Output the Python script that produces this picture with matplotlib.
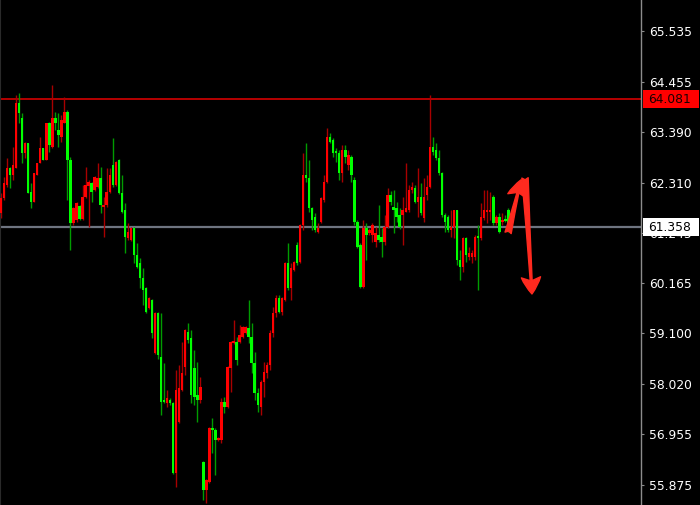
import numpy as np
import matplotlib
matplotlib.use("Agg")
import matplotlib.pyplot as plt
from matplotlib.patches import Rectangle
from matplotlib import transforms

# ---- data (prices) ----
opens = [
    61.66, 61.98, 62.26, 62.62, 62.47, 62.62, 64.00, 63.68, 62.94, 63.15,
    62.11, 61.90, 62.47, 62.73, 63.05, 62.79, 63.58, 63.07, 63.68, 63.43,
    63.28, 63.58, 63.81, 62.79, 61.45, 61.51, 61.81, 61.54, 62.00, 62.24,
    62.30, 62.15, 62.22, 62.41, 61.79, 61.83, 62.11, 62.68, 62.26, 62.79,
    62.09, 61.73, 61.13, 61.09, 61.34, 60.77, 60.60, 60.28, 60.07, 59.64,
    59.81, 58.68, 59.54, 58.60, 57.68, 57.62, 57.68, 57.62, 56.13, 57.22,
    57.90, 58.39, 59.13, 59.00, 58.36, 57.79, 57.68, 56.36, 55.77, 55.94,
    57.09, 57.05, 56.83, 56.83, 57.64, 57.53, 58.36, 58.90, 58.92, 58.92,
    59.02, 59.11, 59.22, 59.02, 58.47, 57.83, 57.53, 58.07, 58.26, 58.43,
    59.11, 59.54, 59.85, 59.56, 59.81, 60.60, 60.07, 60.45, 60.98, 60.62,
    61.41, 62.47, 62.41, 61.77, 61.58, 61.26, 61.47, 61.94, 62.32, 63.28,
    63.22, 62.96, 62.94, 62.51, 63.00, 62.68, 62.85, 62.37, 61.47, 60.98,
    60.09, 61.34, 61.24, 61.19, 61.05, 61.19, 61.15, 61.05, 61.36, 62.05,
    61.79, 61.77, 61.62, 61.62, 61.68, 61.73, 62.15, 62.19, 61.90, 62.00,
    61.56, 62.05, 62.22, 63.07, 63.00, 62.83, 62.51, 61.62, 61.58, 61.30,
    61.36, 61.73, 60.66, 60.51, 61.13, 60.73, 60.73, 60.73, 61.15, 61.13,
    61.56, 61.68, 61.68, 62.00, 61.45, 61.58, 61.47, 61.54, 61.73,
]
closes = [
    61.98, 62.30, 62.62, 62.47, 62.68, 64.00, 63.79, 62.94, 63.15, 62.09,
    61.90, 62.51, 62.73, 63.05, 62.79, 63.58, 63.11, 63.68, 63.58, 63.32,
    63.64, 63.81, 62.79, 61.45, 61.77, 61.88, 61.54, 62.00, 62.26, 62.32,
    62.11, 62.43, 62.41, 61.83, 61.83, 62.11, 62.47, 62.26, 62.75, 62.09,
    61.68, 61.15, 61.26, 61.34, 60.77, 60.51, 60.28, 60.02, 59.56, 59.85,
    59.11, 59.54, 58.64, 57.64, 57.64, 57.73, 57.62, 56.13, 57.90, 57.94,
    58.26, 59.17, 58.96, 57.79, 57.75, 57.68, 57.96, 55.77, 55.98, 57.09,
    57.05, 56.83, 56.88, 57.64, 57.53, 58.39, 58.92, 58.92, 58.53, 59.07,
    59.24, 59.24, 59.02, 58.47, 57.83, 57.58, 58.07, 58.28, 58.43, 59.11,
    59.54, 59.85, 59.56, 59.85, 60.60, 60.07, 60.49, 60.62, 60.60, 61.41,
    62.47, 62.41, 61.77, 61.51, 61.30, 61.34, 61.98, 62.32, 63.28, 63.17,
    62.94, 62.94, 62.51, 63.00, 62.85, 62.90, 62.47, 61.47, 60.94, 60.09,
    61.34, 61.19, 61.30, 61.41, 61.24, 61.09, 61.05, 61.36, 62.05, 61.90,
    61.73, 61.58, 61.36, 61.73, 61.77, 62.15, 62.22, 61.90, 62.00, 61.66,
    62.00, 62.22, 63.07, 62.96, 62.83, 62.51, 61.62, 61.47, 61.30, 61.36,
    61.73, 60.66, 60.51, 61.13, 60.77, 60.81, 60.81, 61.15, 61.13, 61.58,
    61.73, 61.73, 61.73, 61.45, 61.58, 61.26, 61.51, 61.49, 61.30,
]
highs = [
    62.09, 62.43, 62.83, 62.64, 63.07, 64.17, 64.22, 63.79, 63.17, 63.15,
    62.30, 62.51, 62.73, 63.28, 63.05, 63.58, 63.60, 64.39, 63.81, 63.79,
    63.75, 64.13, 63.85, 62.85, 61.79, 61.90, 61.83, 62.26, 62.64, 62.37,
    62.32, 62.45, 62.73, 62.64, 62.00, 62.62, 62.62, 63.26, 62.77, 62.81,
    62.47, 61.88, 61.45, 61.36, 61.36, 61.02, 60.71, 60.49, 60.09, 59.88,
    59.83, 59.56, 59.56, 59.54, 58.47, 57.90, 57.73, 57.64, 58.32, 58.43,
    58.92, 59.19, 59.32, 59.17, 58.75, 58.49, 58.17, 56.38, 56.00, 57.11,
    57.30, 57.09, 56.90, 57.73, 57.75, 58.41, 58.94, 59.39, 59.02, 59.28,
    59.26, 59.26, 59.81, 59.32, 58.71, 57.94, 58.11, 58.49, 58.49, 59.17,
    59.66, 59.92, 59.92, 59.88, 60.62, 61.02, 60.60, 60.64, 61.05, 61.43,
    62.94, 63.15, 62.79, 61.79, 61.66, 61.45, 62.00, 62.47, 63.47, 63.37,
    63.26, 63.05, 63.00, 63.11, 63.11, 63.00, 62.90, 62.43, 61.51, 61.02,
    61.51, 61.45, 61.34, 61.45, 61.36, 61.83, 61.34, 61.62, 62.19, 62.13,
    62.15, 61.90, 61.77, 62.00, 62.73, 62.26, 62.32, 62.26, 62.62, 62.30,
    62.41, 62.47, 64.17, 63.28, 63.15, 63.00, 62.54, 61.66, 61.62, 61.73,
    61.73, 61.73, 60.88, 61.15, 61.15, 60.94, 60.88, 61.19, 61.41, 61.88,
    62.15, 62.15, 62.11, 62.05, 61.62, 61.66, 61.66, 61.62, 61.77,
]
lows = [
    61.56, 61.94, 62.22, 62.19, 62.37, 62.62, 63.58, 62.73, 62.83, 62.09,
    61.77, 61.90, 62.47, 62.73, 62.79, 62.79, 62.96, 63.05, 63.43, 63.07,
    63.17, 63.58, 61.94, 60.88, 61.41, 61.47, 61.51, 61.51, 61.98, 61.36,
    61.90, 62.13, 62.19, 61.66, 61.15, 61.79, 62.09, 62.22, 62.24, 62.07,
    61.66, 60.81, 61.09, 61.07, 60.60, 60.49, 60.07, 59.71, 59.54, 59.62,
    59.00, 58.66, 58.56, 57.36, 57.62, 57.53, 57.58, 56.11, 55.83, 57.20,
    57.88, 58.22, 58.90, 57.62, 57.58, 57.22, 57.62, 55.56, 55.49, 55.92,
    56.56, 56.09, 56.81, 56.77, 57.41, 57.51, 57.85, 58.88, 58.43, 58.90,
    59.00, 59.09, 58.90, 58.26, 57.68, 57.43, 57.36, 57.75, 58.15, 58.32,
    59.02, 59.45, 59.54, 59.49, 59.79, 60.02, 59.81, 60.43, 60.56, 60.60,
    61.30, 62.32, 61.68, 61.30, 61.26, 61.24, 61.45, 61.90, 62.30, 63.15,
    62.85, 62.75, 62.37, 62.32, 62.73, 62.58, 62.32, 61.41, 60.92, 60.07,
    60.07, 60.66, 61.19, 61.05, 60.94, 61.05, 60.73, 60.98, 61.34, 61.83,
    61.24, 61.47, 61.32, 60.98, 61.68, 61.68, 62.09, 61.88, 61.58, 61.62,
    61.47, 61.94, 62.19, 62.90, 62.79, 62.47, 61.58, 61.26, 61.26, 61.15,
    61.13, 60.56, 60.24, 60.41, 60.62, 60.66, 60.60, 60.66, 60.02, 61.09,
    61.51, 61.45, 61.51, 61.41, 61.41, 61.24, 61.41, 61.47, 61.26,
]

price_ticks = [55.875, 56.955, 58.020, 59.100, 60.165, 61.245, 62.310, 63.390, 64.455, 65.535]
red_level = 64.081
gray_level = 61.358
# annotation arrows (candle index, price): (tail, head)
arrow_up = ((167.9, 61.24), (172.2, 62.37))
arrow_down = ((173.5, 62.41), (175.8, 59.94))

# ---- figure ----
W, H = 700, 505
fig = plt.figure(figsize=(W / 100, H / 100), dpi=100, facecolor="black")
ax = fig.add_axes([0, 0, 641 / W, 1])
ax.set_facecolor("black")

o = np.array(opens); c = np.array(closes); h = np.array(highs); l = np.array(lows)
x = np.arange(len(o))
up = c >= o
dn = ~up

ax.vlines(x[up], l[up], h[up], color="#a80000", lw=1.0, zorder=2)
ax.vlines(x[dn], l[dn], h[dn], color="#009c00", lw=1.0, zorder=2)
body_bot = np.minimum(o, c)
body_h = np.maximum(np.abs(c - o), 0.035)
ax.bar(x[up], body_h[up], bottom=body_bot[up], width=0.8, color="#ff0000", linewidth=0, zorder=3)
ax.bar(x[dn], body_h[dn], bottom=body_bot[dn], width=0.8, color="#00ff00", linewidth=0, zorder=3)

ax.axhline(red_level, color="#e60000", lw=1.1, zorder=1)
ax.axhline(gray_level, color="#6e7480", lw=1.6, zorder=1)

for (tail, head) in (arrow_up, arrow_down):
    ax.annotate("", xy=head, xytext=tail,
                arrowprops=dict(arrowstyle="fancy,head_length=1.0,head_width=1.15,tail_width=0.38",
                                color="#ff2a1f", mutation_scale=12, shrinkA=0, shrinkB=0),
                zorder=5)

ax.set_xlim(-0.33, 211.9)
ax.set_ylim(55.45, 66.195)
ax.set_xticks([])
ax.yaxis.tick_right()
ax.set_yticks(price_ticks)
ax.set_yticklabels([f"{v:.3f}" for v in price_ticks])
ax.tick_params(axis="y", colors="#8c8c8c", labelcolor="white", length=2.5, width=0.8,
               pad=3, labelsize=8.8)
for s in ("top", "bottom"):
    ax.spines[s].set_visible(False)
ax.spines["left"].set_color("#2a2a2a")
ax.spines["right"].set_color("#8c8c8c")
ax.spines["right"].set_linewidth(1.0)

# price label boxes on the axis
blend = transforms.blended_transform_factory(fig.transFigure, ax.transData)
box_h = 0.38
for level, fc, tc in ((red_level, "#ff0000", "#1a0000"), (gray_level, "#ffffff", "#000000")):
    fig.add_artist(Rectangle((643 / W, level - box_h / 2), 56 / W, box_h,
                             transform=blend, facecolor=fc, edgecolor="none", zorder=5))
    fig.text(648 / W, level, f"{level:.3f}", transform=blend, color=tc, fontsize=8.8,
             ha="left", va="center", zorder=6)

fig.savefig("out.png", dpi=100, facecolor="black")
